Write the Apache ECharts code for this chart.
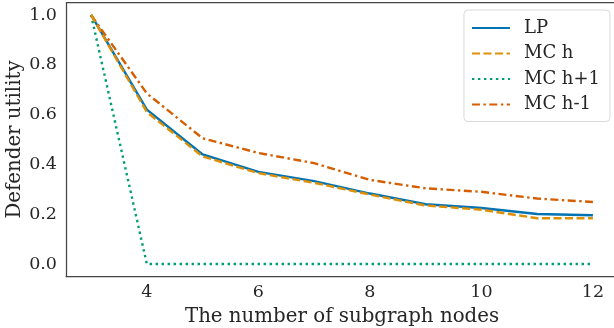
<!DOCTYPE html>
<html><head><meta charset="utf-8">
<script src="https://cdn.jsdelivr.net/npm/echarts@6/dist/echarts.min.js"></script>
<style>html,body{margin:0;padding:0;background:#fff}#c{width:614px;height:328px}</style>
</head><body><div id="c"></div>
<script>
const nodes = [3, 4, 5, 6, 7, 8, 9, 10, 11, 12];
const lp    = [1.0, 0.62, 0.44, 0.37, 0.333, 0.283, 0.24, 0.225, 0.201, 0.196];
const mch   = [1.0, 0.61, 0.432, 0.365, 0.326, 0.279, 0.235, 0.218, 0.184, 0.184];
const mchp1 = [1.0, 0.0, 0.0, 0.0, 0.0, 0.0, 0.0, 0.0, 0.0, 0.0];
const mchm1 = [1.0, 0.685, 0.505, 0.446, 0.405, 0.338, 0.304, 0.29, 0.263, 0.249];
const xTicks = [4, 6, 8, 10, 12];
const yTicks = [0, 0.2, 0.4, 0.6, 0.8, 1.0];

const font = 'DejaVu Serif';
const pair = arr => nodes.map((x, i) => [x, arr[i]]);
function mk(name, arr, color, type, z) {
  return { name, type: 'line', data: pair(arr), symbol: 'none', z,
    lineStyle: { color, width: 2.4, type, cap: 'butt' }, itemStyle: { color } };
}
const chart = echarts.init(document.getElementById('c'), null, { renderer: 'canvas' });
chart.setOption({
  animation: false,
  grid: { left: 66, top: 2.5, width: 552, height: 274, containLabel: false, outerBoundsMode: 'none' },
  textStyle: { fontFamily: font },
  xAxis: {
    type: 'value', min: 2.55, max: 12.45,
    name: 'The number of subgraph nodes', nameLocation: 'middle', nameGap: 26,
    nameTextStyle: { fontFamily: font, fontSize: 19.8, color: '#262626' },
    axisLine: { show: true, onZero: false, lineStyle: { color: '#444', width: 1.25 } },
    axisTick: { show: false },
    splitLine: { show: false },
    axisLabel: { customValues: xTicks, fontFamily: font, fontSize: 17.5, color: '#262626', margin: 7 }
  },
  yAxis: {
    type: 'value', min: -0.05, max: 1.05,
    name: 'Defender utility', nameLocation: 'middle', nameGap: 41, nameMoveOverlap: false,
    nameTextStyle: { fontFamily: font, fontSize: 19.8, color: '#262626' },
    axisLine: { show: true, onZero: false, lineStyle: { color: '#444', width: 1.25 } },
    axisTick: { show: false },
    splitLine: { show: false },
    axisLabel: { customValues: yTicks, fontFamily: font, fontSize: 17.5, color: '#262626', margin: 9,
      formatter: v => v.toFixed(1) }
  },
  legend: {
    orient: 'vertical', right: 4, top: 10,
    itemWidth: 38, itemHeight: 12, itemGap: 7.5,
    padding: [9, 10, 8, 7],
    borderColor: '#d9d9d9', borderWidth: 1, borderRadius: 4,
    backgroundColor: '#fff',
    itemStyle: { opacity: 0 },
    textStyle: { fontFamily: font, fontSize: 18, color: '#262626', padding: [0, 0, 0, 9] },
    data: ['LP', 'MC h', 'MC h+1', 'MC h-1']
  },
  series: [
    mk('LP', lp, '#0173B2', 'solid', 2),
    mk('MC h', mch, '#DE8F05', [8, 3.5], 3),
    mk('MC h+1', mchp1, '#029E73', [2.4, 3.6], 2),
    mk('MC h-1', mchm1, '#D55E00', [8, 3.5, 2.4, 3.5], 2)
  ],
  graphic: [
    { type: 'line', shape: { x1: 66, y1: 2.5, x2: 614, y2: 2.5 }, style: { stroke: '#444', lineWidth: 1.25 } }
  ]
});
</script></body></html>
